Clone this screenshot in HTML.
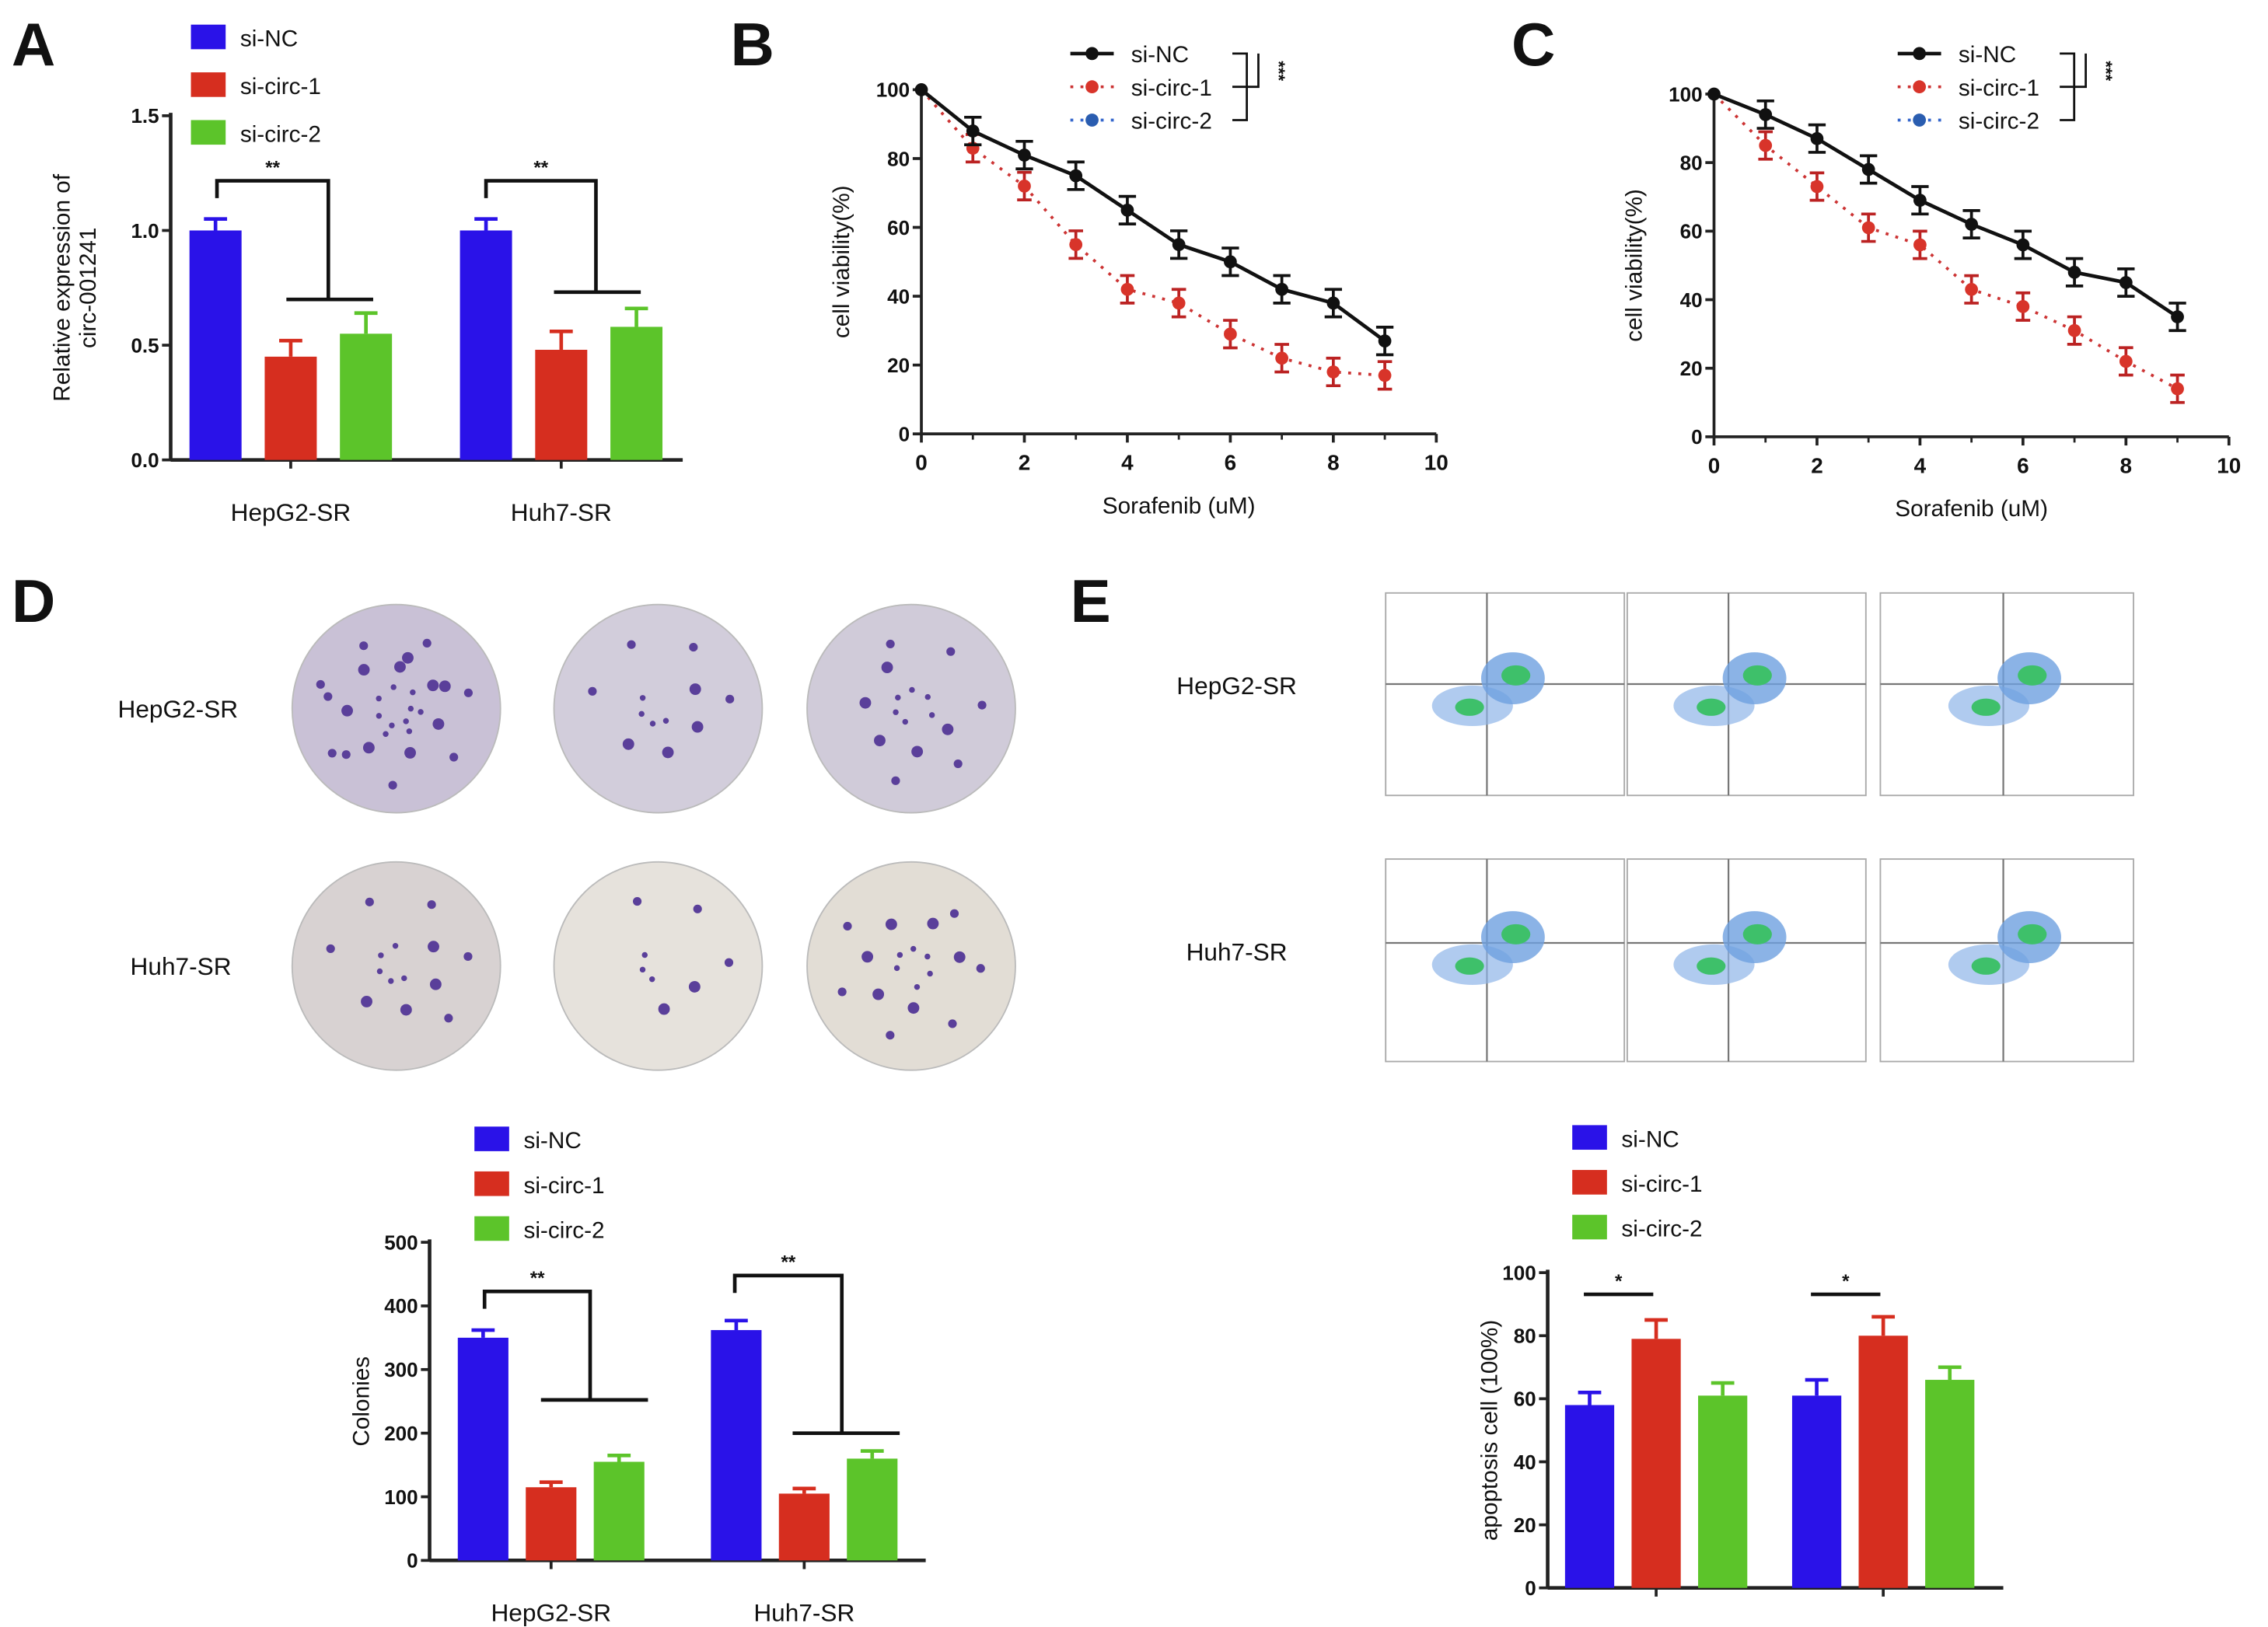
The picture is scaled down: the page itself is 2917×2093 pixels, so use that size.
<!DOCTYPE html>
<html><head><meta charset="utf-8"><style>
html,body{margin:0;padding:0;background:#fff;}
svg{display:block;font-family:"Liberation Sans",Arial,sans-serif;}
</style></head><body>
<svg id="fig" width="2917" height="2093" viewBox="0 0 1568 1125" xmlns="http://www.w3.org/2000/svg">
<rect width="1568" height="1125" fill="#fff"/>
</svg>
<script>
// ---------- data ----------
const groupsA = ["HepG2-SR","Huh7-SR"];
const seriesNames = ["si-NC","si-circ-1","si-circ-2"];
const aNC = [1.0, 1.0];
const aC1 = [0.45, 0.48];
const aC2 = [0.55, 0.58];
const aErrNC = [0.05, 0.05];
const aErrC1 = [0.07, 0.08];
const aErrC2 = [0.09, 0.08];
const aTicks = [0.0, 0.5, 1.0, 1.5];

const doses = [0,1,2,3,4,5,6,7,8,9];
const bNC = [100,88,81,75,65,55,50,42,38,27];
const bC1 = [100,83,72,55,42,38,29,22,18,17];
const cNC = [100,94,87,78,69,62,56,48,45,35];
const cC1 = [100,85,73,61,56,43,38,31,22,14];
const lineXTicks = [0,2,4,6,8,10];
const lineYTicks = [0,20,40,60,80,100];

const dNC = [350, 362];
const dC1 = [115, 105];
const dC2 = [155, 160];
const dErrNC = [12, 15];
const dErrC1 = [8, 8];
const dErrC2 = [10, 12];
const dTicks = [0,100,200,300,400,500];

const eNC = [58, 61];
const eC1 = [79, 80];
const eC2 = [61, 66];
const eErrNC = [4, 5];
const eErrC1 = [6, 6];
const eErrC2 = [4, 4];
const eTicks = [0,20,40,60,80,100];

const BLUE="#2a12e8", RED="#d62e1f", GREEN="#5cc42a";
const svg = document.getElementById('fig');
const NS = "http://www.w3.org/2000/svg";
function mk(tag, attrs, parent){
  const el = document.createElementNS(NS, tag);
  for (const k in attrs) el.setAttribute(k, attrs[k]);
  (parent||svg).appendChild(el);
  return el;
}
function txt(x,y,s,size,anchor,weight,parent){
  const t = mk('text',{x:x,y:y,'font-size':size,'text-anchor':anchor||'start','font-weight':weight||'normal',fill:'#111'},parent);
  t.textContent = s;
  return t;
}

// panel letters
[["A",8,45],["B",505,45],["C",1045,45],["D",8,430],["E",740,430]].forEach(p=>{
  const t = txt(p[1],p[2],p[0],42,'start','bold');
  
  
});

function legend(x,y,dy){
  const cols=[BLUE,RED,GREEN];
  for(let i=0;i<3;i++){
    const r = mk('rect',{x:x,y:y+i*dy-9,width:24,height:17,fill:cols[i]});
    
    
    const t = txt(x+34,y+i*dy+6,seriesNames[i],16);
    
    
  }
}

function barChart(cfg){
  const g = mk('g',{});
  
  
  const ymax = cfg.ticks[cfg.ticks.length-1];
  const Y = v => cfg.y0 - (v/ymax)*(cfg.y0-cfg.ytop);
  // axes
  mk('line',{x1:cfg.x0,y1:cfg.ytop-2,x2:cfg.x0,y2:cfg.y0,stroke:'#222','stroke-width':2.5},g);
  mk('line',{x1:cfg.x0,y1:cfg.y0,x2:cfg.x1,y2:cfg.y0,stroke:'#222','stroke-width':2.5},g);
  cfg.ticks.forEach(v=>{
    mk('line',{x1:cfg.x0-6,y1:Y(v),x2:cfg.x0,y2:Y(v),stroke:'#222','stroke-width':2},g);
    const t = txt(cfg.x0-8,Y(v)+5,cfg.fmt(v),14,'end','bold',g);
    
    
  });
  const series=[cfg.nc,cfg.c1,cfg.c2], errs=[cfg.enc,cfg.ec1,cfg.ec2], cols=[BLUE,RED,GREEN];
  for(let gi=0;gi<2;gi++){
    const gc = cfg.gx[gi];
    mk('line',{x1:gc,y1:cfg.y0,x2:gc,y2:cfg.y0+6,stroke:'#222','stroke-width':2},g);
    const lt = txt(gc,cfg.y0+42,groupsA[gi],17,'middle','normal',g);
    
    
    for(let s=0;s<3;s++){
      const cx = gc + (s-1)*cfg.step;
      const v = series[s][gi], e = errs[s][gi];
      const b = mk('rect',{x:cx-cfg.bw/2,y:Y(v),width:cfg.bw,height:cfg.y0-Y(v),fill:cols[s]},g);
      
      
      mk('line',{x1:cx,y1:Y(v),x2:cx,y2:Y(v+e),stroke:cols[s],'stroke-width':2.5},g);
      mk('line',{x1:cx-8,y1:Y(v+e),x2:cx+8,y2:Y(v+e),stroke:cols[s],'stroke-width':2.5},g);
    }
  }
  const yl = txt(0,0,'',16,'middle','normal',g);
  yl.setAttribute('transform','translate('+cfg.ylx+','+((cfg.y0+cfg.ytop)/2)+') rotate(-90)');
  
  
  cfg.ylab.forEach((l,i)=>{const ts=mk('tspan',{x:0,dy:i?18:0},yl);ts.textContent=l;});
  return {g,Y};
}

// ---------- Panel A ----------
legend(132,26,33);
const A = barChart({name:'panel-a-bar-chart',x0:118,x1:472,y0:318,ytop:80,ticks:aTicks,fmt:v=>v.toFixed(1),
  gx:[201,388],step:52,bw:36,nc:aNC,c1:aC1,c2:aC2,enc:aErrNC,ec1:aErrC1,ec2:aErrC2,ylx:48,ylab:["Relative expression of","circ-001241"]});
function sig(g,x1,ytop,x2,y2,lx1,lx2,label){
  mk('polyline',{points:`${x1},${ytop+12} ${x1},${ytop} ${x2},${ytop} ${x2},${y2}`,fill:'none',stroke:'#111','stroke-width':2.5},g);
  mk('line',{x1:lx1,y1:y2,x2:lx2,y2:y2,stroke:'#111','stroke-width':2.5},g);
  const t=txt((x1+x2)/2,ytop-5,label,13,'middle','bold',g);
  
  
}
sig(A.g,150,125,227,207,198,258,'**');
sig(A.g,336,125,412,202,383,443,'**');

// ---------- Line charts B, C ----------
function lineChart(cfg){
  const g = mk('g',{});
  
  
  const X = v => cfg.x0 + v/10*(cfg.x10-cfg.x0);
  const Y = v => cfg.y0 - v/100*(cfg.y0-cfg.y100);
  mk('line',{x1:cfg.x0,y1:cfg.y100-3,x2:cfg.x0,y2:cfg.y0,stroke:'#222','stroke-width':2},g);
  mk('line',{x1:cfg.x0,y1:cfg.y0,x2:cfg.x10,y2:cfg.y0,stroke:'#222','stroke-width':2},g);
  lineYTicks.forEach(v=>{
    mk('line',{x1:cfg.x0-6,y1:Y(v),x2:cfg.x0,y2:Y(v),stroke:'#222','stroke-width':2},g);
    const t=txt(cfg.x0-8,Y(v)+5,String(v),14,'end','bold',g);
    
    
  });
  lineXTicks.forEach(v=>{
    mk('line',{x1:X(v),y1:cfg.y0,x2:X(v),y2:cfg.y0+6,stroke:'#222','stroke-width':2},g);
    const t=txt(X(v),cfg.y0+25,String(v),15,'middle','bold',g);
    
    
  });
  for(let v=1;v<10;v+=2) mk('line',{x1:X(v),y1:cfg.y0,x2:X(v),y2:cfg.y0+4,stroke:'#222','stroke-width':1.5},g);
  const xt=txt((cfg.x0+cfg.x10)/2,cfg.y0+55,'Sorafenib (uM)',16,'middle','normal',g);
  
  
  const yt=txt(0,0,'cell viability(%)',16,'middle','normal',g);
  yt.setAttribute('transform',`translate(${cfg.x0-50},${(cfg.y0+cfg.y100)/2}) rotate(-90)`);
  
  
  // si-circ dotted
  const p1 = doses.map((d,i)=>X(d)+','+Y(cfg.c1[i])).join(' ');
  const l1 = mk('polyline',{points:p1,fill:'none',stroke:'#c33','stroke-width':2,'stroke-dasharray':'2,5'},g);
  
  
  doses.forEach((d,i)=>{
    if(i===0) return;
    mk('line',{x1:X(d),y1:Y(cfg.c1[i]+4),x2:X(d),y2:Y(cfg.c1[i]-4),stroke:'#b22','stroke-width':2},g);
    mk('line',{x1:X(d)-5,y1:Y(cfg.c1[i]+4),x2:X(d)+5,y2:Y(cfg.c1[i]+4),stroke:'#b22','stroke-width':2},g);
    mk('line',{x1:X(d)-5,y1:Y(cfg.c1[i]-4),x2:X(d)+5,y2:Y(cfg.c1[i]-4),stroke:'#b22','stroke-width':2},g);
    const m=mk('circle',{cx:X(d),cy:Y(cfg.c1[i]),r:4.5,fill:'#d8342a'},g);
    
    
  });
  const p0 = doses.map((d,i)=>X(d)+','+Y(cfg.nc[i])).join(' ');
  const l0 = mk('polyline',{points:p0,fill:'none',stroke:'#111','stroke-width':2.5},g);
  
  
  doses.forEach((d,i)=>{
    if(i>0){
      mk('line',{x1:X(d),y1:Y(cfg.nc[i]+4),x2:X(d),y2:Y(cfg.nc[i]-4),stroke:'#111','stroke-width':2},g);
      mk('line',{x1:X(d)-6,y1:Y(cfg.nc[i]+4),x2:X(d)+6,y2:Y(cfg.nc[i]+4),stroke:'#111','stroke-width':2},g);
      mk('line',{x1:X(d)-6,y1:Y(cfg.nc[i]-4),x2:X(d)+6,y2:Y(cfg.nc[i]-4),stroke:'#111','stroke-width':2},g);
    }
    const m=mk('circle',{cx:X(d),cy:Y(cfg.nc[i]),r:4.5,fill:'#111'},g);
    
    
  });
  // legend
  const lx=cfg.lx, ly=cfg.ly;
  mk('line',{x1:lx,y1:ly,x2:lx+30,y2:ly,stroke:'#111','stroke-width':2.5},g);
  mk('circle',{cx:lx+15,cy:ly,r:4.5,fill:'#111'},g);
  mk('line',{x1:lx,y1:ly+23,x2:lx+30,y2:ly+23,stroke:'#c33','stroke-width':2,'stroke-dasharray':'2,5'},g);
  mk('circle',{cx:lx+15,cy:ly+23,r:4.5,fill:'#d8342a'},g);
  mk('line',{x1:lx,y1:ly+46,x2:lx+30,y2:ly+46,stroke:'#36c','stroke-width':2,'stroke-dasharray':'2,5'},g);
  mk('circle',{cx:lx+15,cy:ly+46,r:4.5,fill:'#2a5db0'},g);
  seriesNames.forEach((s,i)=>{
    const t=txt(lx+42,ly+6+i*23,s,16,'start','normal',g);
    
    
  });
  mk('polyline',{points:`${lx+112},${ly} ${lx+122},${ly} ${lx+122},${ly+46} ${lx+112},${ly+46}`,fill:'none',stroke:'#111','stroke-width':1.5},g);
  mk('polyline',{points:`${lx+112},${ly+23} ${lx+130},${ly+23} ${lx+130},${ly}`,fill:'none',stroke:'#111','stroke-width':1.5},g);
  const st=txt(0,0,'***',12,'middle','bold',g);
  st.setAttribute('transform',`translate(${lx+140},${ly+12}) rotate(90)`);
}
lineChart({name:'panel-b-line-chart',x0:637,x10:993,y0:300,y100:62,nc:bNC,c1:bC1,lx:740,ly:37});
lineChart({name:'panel-c-line-chart',x0:1185,x10:1541,y0:302,y100:65,nc:cNC,c1:cC1,lx:1312,ly:37});

// ---------- Panel D plates ----------
const plateX=[274,455,630], plateY=[490,668];
const plateCols=[["#c9c1d6","#d2cddb","#d0cbd9"],["#d8d2d2","#e6e2dc","#e2ddd5"]];
const dots=[[28,12,16],[14,8,18]];
[ "HepG2-SR","Huh7-SR"].forEach((n,r)=>{
  const t=txt(r?125:123,plateY[r]+6,n,17,'middle','normal');
  
  
  plateX.forEach((x,c)=>{
    const p=mk('circle',{cx:x,cy:plateY[r],r:72,fill:plateCols[r][c],stroke:'#bbb','stroke-width':1});
    
    
    for(let k=0;k<dots[r][c];k++){
      const a=k*2.4+c+r, rr=10+((k*37)%55);
      mk('circle',{cx:x+Math.cos(a)*rr,cy:plateY[r]+Math.sin(a)*rr,r:2+(k%3),fill:'#5a3f9a'});
    }
  });
});

// ---------- Panel E flow plots ----------
const fx=[958,1125,1300], fy=[410,594], fw=150, fh=140;
["HepG2-SR","Huh7-SR"].forEach((n,r)=>{
  const t=txt(855,fy[r]+70,n,17,'middle','normal');
  
  
  fx.forEach((x,c)=>{
    const g=mk('g',{});
    
    
    mk('rect',{x:x,y:fy[r],width:fw+(c===2?25:15),height:fh,fill:'#fff',stroke:'#aaa','stroke-width':1},g);
    const qx=x+70+(c===2?15:0), qy=fy[r]+58+(r?0:5);
    mk('line',{x1:qx,y1:fy[r],x2:qx,y2:fy[r]+fh,stroke:'#777','stroke-width':1.2},g);
    mk('line',{x1:x,y1:qy,x2:x+fw+(c===2?25:15),y2:qy,stroke:'#777','stroke-width':1.2},g);
    mk('ellipse',{cx:qx-10,cy:qy+15,rx:28,ry:14,fill:'#8fb5e8',opacity:0.7},g);
    mk('ellipse',{cx:qx+18,cy:qy-4,rx:22,ry:18,fill:'#6ea0e0',opacity:0.8},g);
    mk('ellipse',{cx:qx-12,cy:qy+16,rx:10,ry:6,fill:'#3ec06a'},g);
    mk('ellipse',{cx:qx+20,cy:qy-6,rx:10,ry:7,fill:'#3ec06a'},g);
  });
});

// ---------- Panel D bar ----------
legend(328,788,31);
const D = barChart({name:'panel-d-bar-chart',x0:297,x1:640,y0:1079,ytop:859,ticks:dTicks,fmt:v=>String(v),
  gx:[381,556],step:47,bw:35,nc:dNC,c1:dC1,c2:dC2,enc:dErrNC,ec1:dErrC1,ec2:dErrC2,ylx:255,ylab:["Colonies"]});
sig(D.g,335,893,408,968,374,448,'**');
sig(D.g,508,882,582,991,548,622,'**');

// ---------- Panel E bar ----------
legend(1087,787,31);
const E = barChart({name:'panel-e-bar-chart',x0:1070,x1:1385,y0:1098,ytop:880,ticks:eTicks,fmt:v=>String(v),
  gx:[1145,1302],step:46,bw:34,nc:eNC,c1:eC1,c2:eC2,enc:eErrNC,ec1:eErrC1,ec2:eErrC2,ylx:1035,ylab:["apoptosis cell (100%)"]});
[[1095,1143],[1252,1300]].forEach(p=>{
  mk('line',{x1:p[0],y1:895,x2:p[1],y2:895,stroke:'#111','stroke-width':2.5},E.g);
  const t=txt((p[0]+p[1])/2,890,'*',13,'middle','bold',E.g);
  
  
});
</script>
</body></html>
